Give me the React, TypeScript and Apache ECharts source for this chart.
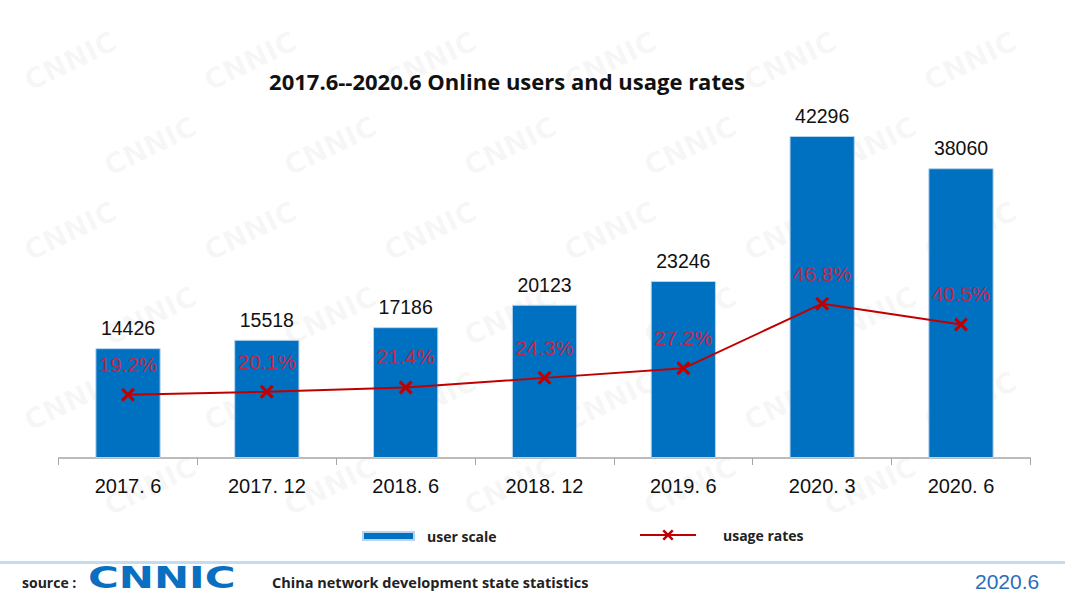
import React, { useEffect, useRef } from "react";
import * as echarts from "echarts";

const categories = ["2017. 6", "2017. 12", "2018. 6", "2018. 12", "2019. 6", "2020. 3", "2020. 6"];
const userScale = [14426, 15518, 17186, 20123, 23246, 42296, 38060];
const usageRates = [19.2, 20.1, 21.4, 24.3, 27.2, 46.8, 40.5];

const X_SYMBOL =
  "path://M0,1.6L1.6,0L5,3.4L8.4,0L10,1.6L6.6,5L10,8.4L8.4,10L5,6.6L1.6,10L0,8.4L3.4,5Z";

function watermarks() {
  const items: any[] = [];
  for (let r = 0; r < 6; r++) {
    for (let c = 0; c < 6; c++) {
      const x = 20 + c * 180 + (r % 2) * 80;
      if (x > 920) continue;
      items.push({
        type: "text",
        x,
        y: 70 + r * 85,
        rotation: 0.45,
        silent: true,
        z: -10,
        style: {
          text: "CNNIC",
          fontSize: 28,
          fontWeight: "bold",
          fontFamily: "DejaVu Sans",
          fill: "rgba(120,120,120,0.06)",
        },
      });
    }
  }
  return items;
}

export default function App() {
  const ref = useRef<HTMLDivElement>(null);
  useEffect(() => {
    const chart = echarts.init(ref.current!, null, { renderer: "svg" });
    chart.setOption({
      animation: false,
      backgroundColor: "#ffffff",
      title: {
        text: "2017.6--2020.6 Online users and usage rates",
        left: 502,
        textAlign: "center",
        top: 65,
        textStyle: { fontFamily: "Open Sans", fontWeight: "bold", fontSize: 22, color: "#111" },
      },
      legend: [
        {
          data: ["user scale"],
          left: 357,
          top: 524,
          itemWidth: 51,
          itemHeight: 8,
          icon: "rect",
          textStyle: { fontFamily: "Open Sans", fontWeight: "bold", fontSize: 14, color: "#222", padding: [0, 0, 0, 8] },
        },
        {
          data: ["usage rates"],
          left: 634,
          top: 523,
          itemWidth: 56,
          itemHeight: 14,
          textStyle: { fontFamily: "Open Sans", fontWeight: "bold", fontSize: 14, color: "#222", padding: [0, 0, 0, 22] },
        },
      ],
      grid: { left: 58.6, right: 34.6, top: 115.4, bottom: 137 },
      xAxis: {
        type: "category",
        data: categories,
        axisLine: { lineStyle: { color: "#a6a6a6", width: 1.5 } },
        axisTick: { show: true, length: 7, lineStyle: { color: "#a6a6a6" } },
        axisLabel: { fontSize: 20, color: "#111", margin: 18, fontFamily: "Liberation Sans" },
      },
      yAxis: [
        { type: "value", min: 0, max: 45000, show: false, splitLine: { show: false } },
        { type: "value", min: 0, max: 103.9, show: false, splitLine: { show: false } },
      ],
      series: [
        {
          name: "user scale",
          type: "bar",
          data: userScale,
          barWidth: "47%",
          itemStyle: { color: "#0070C0", borderColor: "#b7d3ee", borderWidth: 1 },
          label: {
            show: true,
            position: "top",
            distance: 10,
            fontSize: 19.5,
            color: "#111",
            fontFamily: "Liberation Sans",
          },
        },
        {
          name: "usage rates",
          type: "line",
          yAxisIndex: 1,
          data: usageRates,
          symbol: X_SYMBOL,
          symbolSize: 14,
          lineStyle: { color: "#C00000", width: 2 },
          itemStyle: { color: "#C00000" },
          label: {
            show: true,
            position: "top",
            distance: 13,
            fontSize: 20.5,
            color: "#C0284A",
            fontFamily: "Liberation Sans",
            formatter: (p: any) => p.value.toFixed(1) + "%",
          },
        },
      ],
      graphic: [
        ...watermarks(),
        {
          type: "rect",
          shape: { x: 0, y: 561, width: 1065, height: 3 },
          style: { fill: "#c5dcf0" },
          silent: true,
        },
        {
          type: "text",
          x: 22,
          y: 582,
          style: { text: "source :", fontFamily: "Open Sans", fontWeight: "bold", fontSize: 14, fill: "#222", verticalAlign: "middle" },
        },
        {
          type: "text",
          x: 88,
          y: 578,
          scaleX: 1.4,
          style: {
            text: "CNNIC",
            fontFamily: "DejaVu Sans",
            fontWeight: "bold",
            fontSize: 30,
            fill: "#0a6fc0",
            verticalAlign: "middle",
          },
        },
        {
          type: "text",
          x: 272,
          y: 582,
          style: {
            text: "China network development state statistics",
            fontFamily: "Open Sans",
            fontWeight: "bold",
            fontSize: 14.5,
            fill: "#222",
            verticalAlign: "middle",
          },
        },
        {
          type: "text",
          x: 975,
          y: 581,
          style: { text: "2020.6", fontFamily: "Liberation Sans", fontSize: 21, fill: "#2a6ebb", verticalAlign: "middle" },
        },
      ],
    });
    return () => chart.dispose();
  }, []);
  return <div ref={ref} style={{ position: "fixed", left: 0, top: 0, width: 1065, height: 595 }} />;
}
